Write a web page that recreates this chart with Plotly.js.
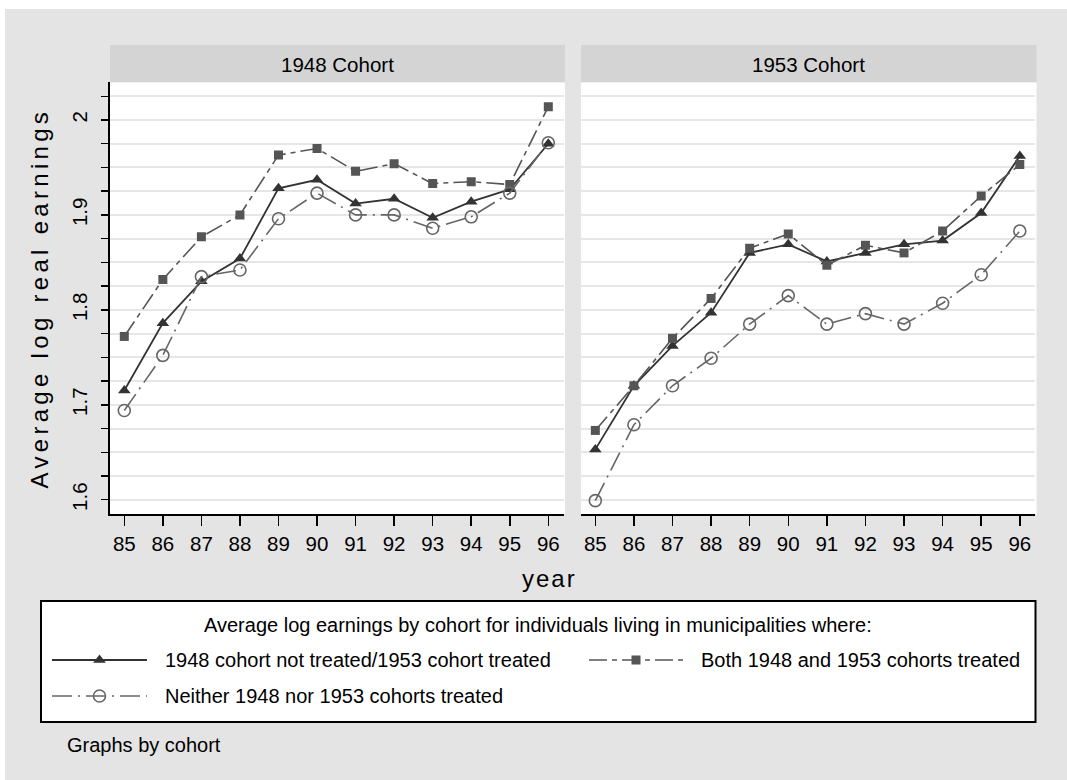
<!DOCTYPE html>
<html>
<head>
<meta charset="utf-8">
<script src="https://cdn.plot.ly/plotly-3.0.1.min.js"></script>
<style>html,body{margin:0;padding:0;background:#fff;}#chart{width:1067px;height:780px;}</style>
</head>
<body>
<div id="chart"></div>
<script>
// ---- data ----
var years = [85, 86, 87, 88, 89, 90, 91, 92, 93, 94, 95, 96];
var yearLabels = ['85','86','87','88','89','90','91','92','93','94','95','96'];
var panels = ['1948 Cohort', '1953 Cohort'];
var seriesNames = ['1948 cohort not treated/1953 cohort treated', 'Both 1948 and 1953 cohorts treated', 'Neither 1948 nor 1953 cohorts treated'];
// 1948 cohort panel
var c1948_notTreated = [1.715, 1.786, 1.830, 1.854, 1.928, 1.937, 1.912, 1.917, 1.897, 1.914, 1.927, 1.975];
var c1948_both       = [1.772, 1.832, 1.877, 1.900, 1.963, 1.970, 1.946, 1.954, 1.933, 1.935, 1.932, 2.014];
var c1948_neither    = [1.694, 1.752, 1.835, 1.842, 1.896, 1.923, 1.900, 1.900, 1.886, 1.898, 1.923, 1.976];
// 1953 cohort panel
var c1953_notTreated = [1.653, 1.720, 1.762, 1.797, 1.860, 1.869, 1.851, 1.860, 1.869, 1.873, 1.902, 1.962];
var c1953_both       = [1.673, 1.720, 1.770, 1.812, 1.865, 1.880, 1.847, 1.868, 1.860, 1.883, 1.920, 1.953];
var c1953_neither    = [1.599, 1.679, 1.720, 1.749, 1.785, 1.815, 1.785, 1.796, 1.785, 1.807, 1.837, 1.883];
var yTickVals = [1.6,1.625,1.65,1.675,1.7,1.725,1.75,1.775,1.8,1.825,1.85,1.875,1.9,1.925,1.95,1.975,2.0,2.025];
var yTickText = ['1.6','','','','1.7','','','','1.8','','','','1.9','','','','2',''];
var legendTitle = 'Average log earnings by cohort for individuals living in municipalities where:';
var noteText = 'Graphs by cohort';

// ---- geometry helpers (pixels -> figure fraction, margins are 0) ----
var W = 1067, H = 780;
function fx(p){ return p / W; }
function fy(p){ return 1 - p / H; }
var FONT = 'Liberation Sans, Arial, sans-serif';

var styles = [
  {color:'#333333', dash:'solid', symbol:'triangle-up', size:11, lw:1.8, open:false},
  {color:'#555555', dash:'18px,5px,5px,5px', symbol:'square', size:9, lw:1.6, open:false},
  {color:'#666666', dash:'20px,6px,2px,6px', symbol:'circle-open', size:12, lw:1.6, open:true}
];
var panelData = [
  [c1948_notTreated, c1948_both, c1948_neither],
  [c1953_notTreated, c1953_both, c1953_neither]
];

var traces = [];
panelData.forEach(function(ser, pi){
  ser.forEach(function(vals, si){
    var s = styles[si];
    traces.push({
      type:'scatter', mode:'lines+markers', x: years, y: vals,
      xaxis: pi === 0 ? 'x' : 'x2', yaxis: pi === 0 ? 'y' : 'y2',
      name: seriesNames[si], showlegend:false, hoverinfo:'skip',
      line:{color:s.color, width:s.lw, dash:s.dash},
      marker:{symbol:s.symbol, size:s.size, color:s.color, line:{color:s.color, width: s.open ? 1.6 : 0}}
    });
  });
});

// ---- custom legend samples (pixel space on hidden overlay axes) ----
var legRows = [
  {si:0, x0:52, x1:147, y:660},
  {si:1, x0:589, x1:683, y:660},
  {si:2, x0:52, x1:147, y:696}
];
legRows.forEach(function(r){
  var s = styles[r.si];
  traces.push({type:'scatter', mode:'lines', x:[r.x0, r.x1], y:[r.y, r.y], xaxis:'x3', yaxis:'y3',
    showlegend:false, hoverinfo:'skip', line:{color:s.color, width:s.lw, dash:s.dash}});
  traces.push({type:'scatter', mode:'markers', x:[(r.x0 + r.x1) / 2], y:[r.y], xaxis:'x3', yaxis:'y3',
    showlegend:false, hoverinfo:'skip',
    marker:{symbol:s.symbol, size:s.size, color:s.color, line:{color:s.color, width: s.open ? 1.6 : 0}}});
});

var xCommon = {
  range:[84.629, 96.394], tickvals: years, ticktext: yearLabels,
  ticks:'outside', ticklen:10, tickwidth:1.5, tickcolor:'#000',
  showline:true, linecolor:'#000', linewidth:2, showgrid:false, zeroline:false,
  tickfont:{family:FONT, size:20.5, color:'#000'}, fixedrange:true
};
var yCommon = {
  range:[1.58495, 2.0397], domain:[fy(514), fy(82.3)], tickvals: yTickVals, ticktext: yTickText,
  showgrid:true, gridcolor:'#e6e6e6', gridwidth:2, zeroline:false, fixedrange:true
};

var layout = {
  width: W, height: H, margin:{l:0, r:0, t:0, b:0},
  paper_bgcolor:'#ffffff', plot_bgcolor:'rgba(0,0,0,0)',
  font:{family:FONT, color:'#000'},
  showlegend:false,
  xaxis: Object.assign({}, xCommon, {domain:[fx(110), fx(563.5)], anchor:'y'}),
  xaxis2: Object.assign({}, xCommon, {domain:[fx(581), fx(1035)], anchor:'y2'}),
  yaxis: Object.assign({}, yCommon, {anchor:'x', tickangle:-90,
    ticks:'outside', ticklen:7, tickwidth:1.5, tickcolor:'#000',
    showline:true, linecolor:'#000', linewidth:2,
    tickfont:{family:FONT, size:20.5, color:'#000'}, ticklabelstandoff:6,
    title:{text:'<span style="letter-spacing:4.3px">Average log real earnings</span>', font:{family:FONT, size:24, color:'#000'}, standoff:12}}),
  yaxis2: Object.assign({}, yCommon, {anchor:'x2', showticklabels:false, ticks:'', showline:false}),
  xaxis3: {domain:[0,1], range:[0, W], visible:false, anchor:'y3', fixedrange:true},
  yaxis3: {domain:[0,1], range:[H, 0], visible:false, anchor:'x3', fixedrange:true},
  shapes: [
    {type:'rect', xref:'paper', yref:'paper', x0:fx(5), x1:fx(1067), y0:fy(780), y1:fy(9), fillcolor:'#e4e4e4', line:{width:0}, layer:'below'},
    {type:'rect', xref:'paper', yref:'paper', x0:fx(110), x1:fx(565), y0:fy(514), y1:fy(82.3), fillcolor:'#ffffff', line:{width:0}, layer:'below'},
    {type:'rect', xref:'paper', yref:'paper', x0:fx(581), x1:fx(1036.5), y0:fy(514), y1:fy(82.3), fillcolor:'#ffffff', line:{width:0}, layer:'below'},
    {type:'rect', xref:'paper', yref:'paper', x0:fx(110), x1:fx(565), y0:fy(82.3), y1:fy(45), fillcolor:'#d4d4d4', line:{width:0}, layer:'below'},
    {type:'rect', xref:'paper', yref:'paper', x0:fx(581), x1:fx(1036.5), y0:fy(82.3), y1:fy(45), fillcolor:'#d4d4d4', line:{width:0}, layer:'below'},
    {type:'rect', xref:'paper', yref:'paper', x0:fx(41), x1:fx(1035.5), y0:fy(722), y1:fy(601), fillcolor:'#ffffff', line:{color:'#000', width:2}, layer:'below'}
  ],
  annotations: [
    {xref:'paper', yref:'paper', x:fx(337.5), y:fy(64), text:panels[0], showarrow:false, xanchor:'center', yanchor:'middle', font:{family:FONT, size:20.5, color:'#000'}},
    {xref:'paper', yref:'paper', x:fx(808.7), y:fy(64), text:panels[1], showarrow:false, xanchor:'center', yanchor:'middle', font:{family:FONT, size:20.5, color:'#000'}},
    {xref:'paper', yref:'paper', x:fx(550), y:fy(578), text:'<span style="letter-spacing:2px">year</span>', showarrow:false, xanchor:'center', yanchor:'middle', font:{family:FONT, size:24, color:'#000'}},
    {xref:'paper', yref:'paper', x:fx(538), y:fy(625), text:legendTitle, showarrow:false, xanchor:'center', yanchor:'middle', font:{family:FONT, size:20, color:'#000'}},
    {xref:'paper', yref:'paper', x:fx(162.7), y:fy(660), text:seriesNames[0], showarrow:false, xanchor:'left', yanchor:'middle', font:{family:FONT, size:20, color:'#000'}},
    {xref:'paper', yref:'paper', x:fx(698.6), y:fy(660), text:seriesNames[1], showarrow:false, xanchor:'left', yanchor:'middle', font:{family:FONT, size:20, color:'#000'}},
    {xref:'paper', yref:'paper', x:fx(162.7), y:fy(696), text:seriesNames[2], showarrow:false, xanchor:'left', yanchor:'middle', font:{family:FONT, size:20, color:'#000'}},
    {xref:'paper', yref:'paper', x:fx(65), y:fy(745), text:noteText, showarrow:false, xanchor:'left', yanchor:'middle', font:{family:FONT, size:20, color:'#000'}}
  ]
};

Plotly.newPlot('chart', traces, layout, {staticPlot:true, displayModeBar:false});
</script>
</body>
</html>
